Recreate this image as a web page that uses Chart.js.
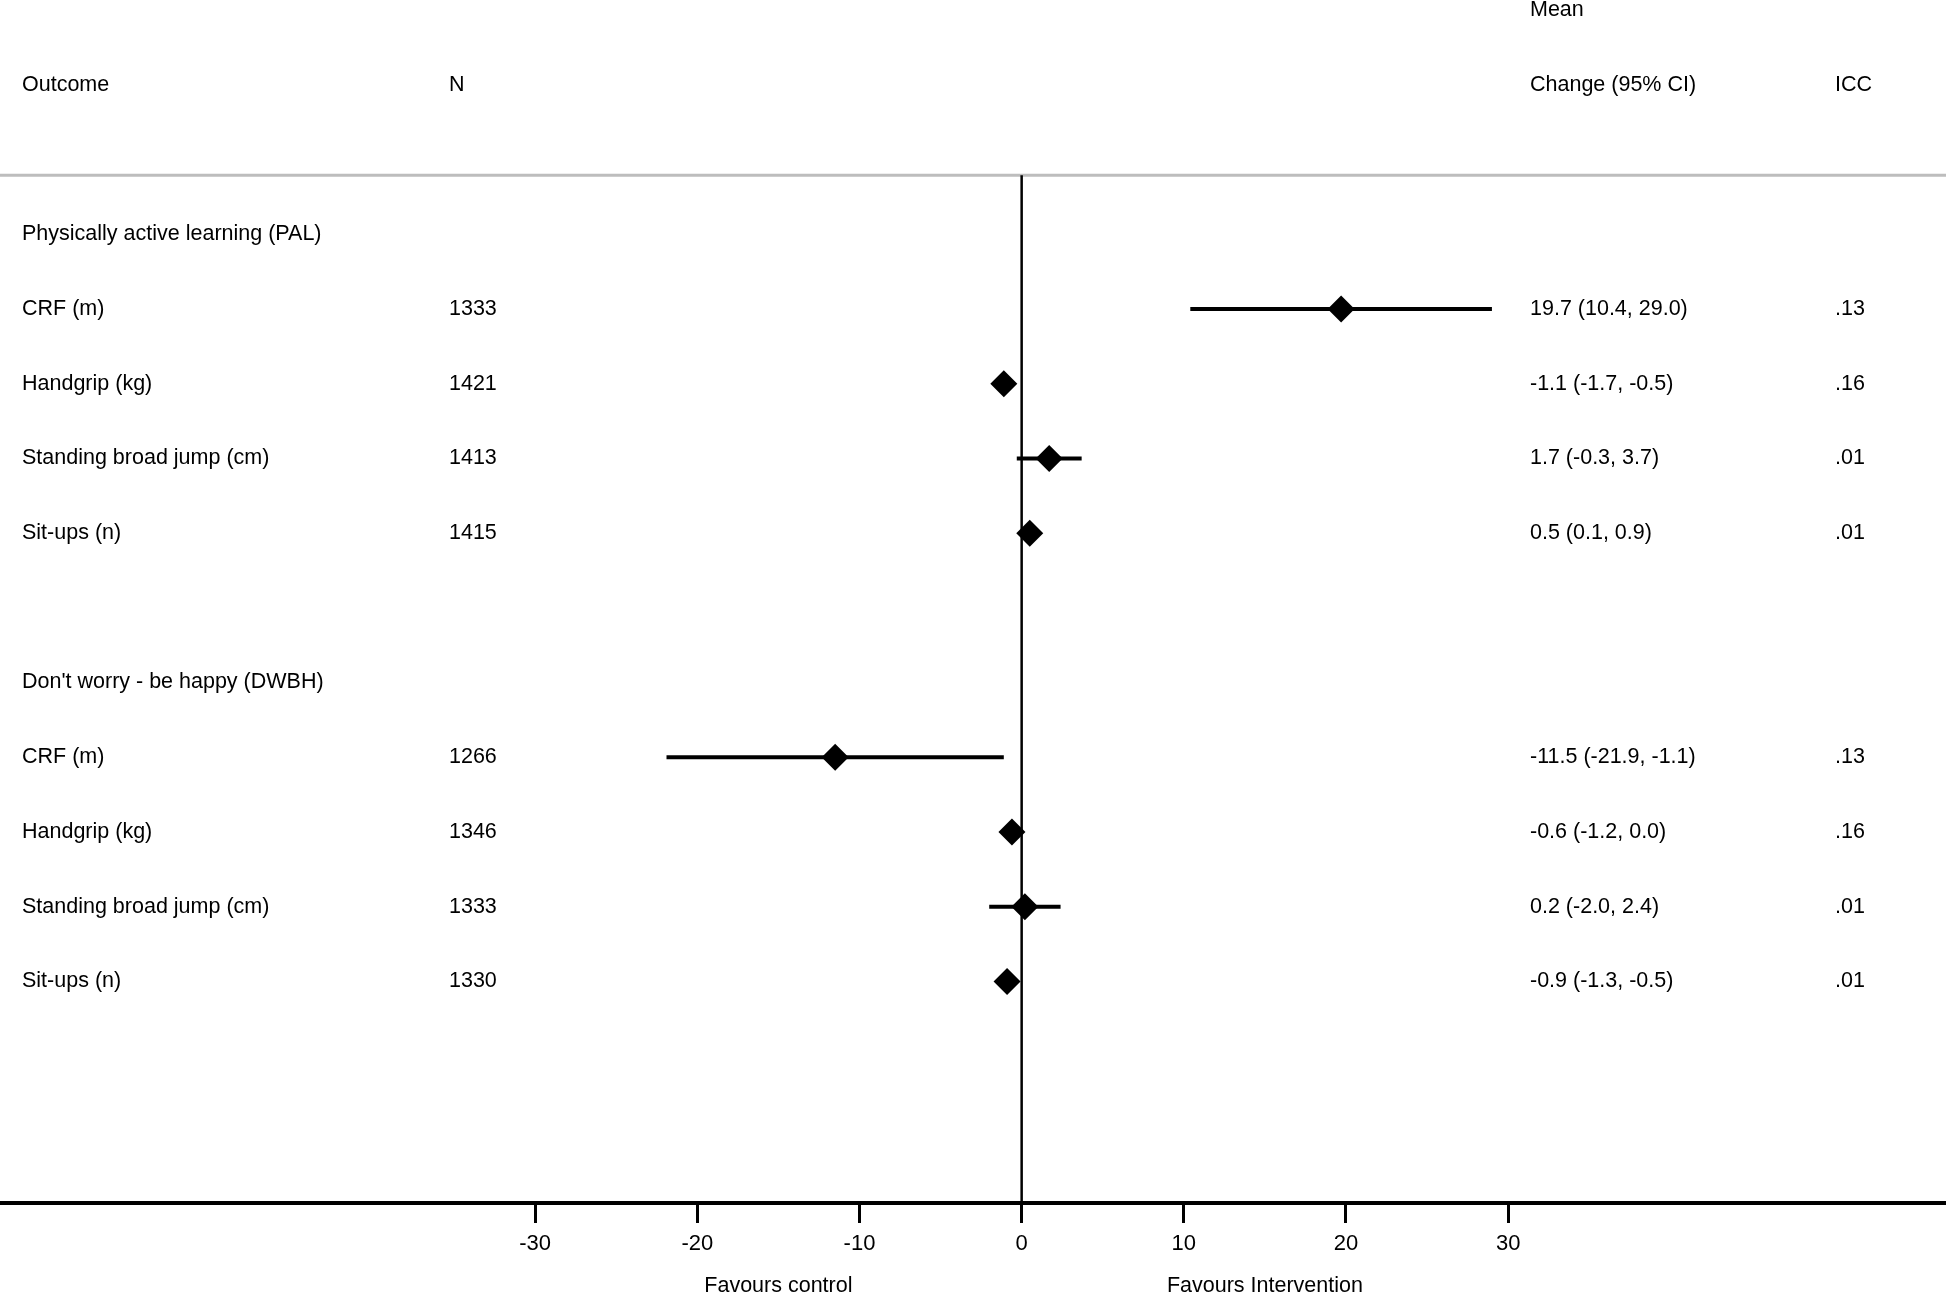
<!DOCTYPE html>
<html>
<head>
<meta charset="utf-8">
<title>Forest plot</title>
<script src="https://cdn.jsdelivr.net/npm/chart.js@4.4.1/dist/chart.umd.min.js"></script>
<style>
  html, body { margin: 0; padding: 0; background: #fff; }
  #wrap { width: 1946px; height: 1294px; }
</style>
</head>
<body>
<div id="wrap"><canvas id="forest"></canvas></div>
<script>
// rows from top to bottom (blank = spacer)
var outcomes = ["Physically active learning (PAL)", "CRF (m)", "Handgrip (kg)", "Standing broad jump (cm)", "Sit-ups (n)", "",
  "Don't worry - be happy (DWBH)", "CRF (m)", "Handgrip (kg)", "Standing broad jump (cm)", "Sit-ups (n)"];
var nValues = ["", "1333", "1421", "1413", "1415", "", "", "1266", "1346", "1333", "1330"];
var means = [null, 19.7, -1.1, 1.7, 0.5, null, null, -11.5, -0.6, 0.2, -0.9];
var lower = [null, 10.4, -1.7, -0.3, 0.1, null, null, -21.9, -1.2, -2.0, -1.3];
var upper = [null, 29.0, -0.5, 3.7, 0.9, null, null, -1.1, 0.0, 2.4, -0.5];
var icc = ["", ".13", ".16", ".01", ".01", "", "", ".13", ".16", ".01", ".01"];
var xTicks = [-30, -20, -10, 0, 10, 20, 30];
var favours = [{x: -15, text: "Favours control"}, {x: 15, text: "Favours Intervention"}];

var FAMILY = "'Liberation Sans', Arial, sans-serif";
var FONT = "21.5px " + FAMILY;

var points = [];
for (var i = 0; i < means.length; i++) {
  if (means[i] !== null) points.push({x: means[i], y: i});
}

function ciText(i) {
  return means[i].toFixed(1) + " (" + lower[i].toFixed(1) + ", " + upper[i].toFixed(1) + ")";
}

var forestPlugin = {
  id: 'forest',
  beforeDatasetsDraw: function(chart) {
    var ctx = chart.ctx, xs = chart.scales.x, ys = chart.scales.y, area = chart.chartArea;
    ctx.save();
    // grey header separator
    var sepY = ys.getPixelForValue(-0.79);
    ctx.strokeStyle = '#bdbdbd';
    ctx.lineWidth = 3;
    ctx.beginPath();
    ctx.moveTo(0, sepY);
    ctx.lineTo(chart.width, sepY);
    ctx.stroke();
    // line of no effect
    ctx.strokeStyle = '#000';
    ctx.lineWidth = 2.5;
    ctx.beginPath();
    ctx.moveTo(xs.getPixelForValue(0), sepY);
    ctx.lineTo(xs.getPixelForValue(0), area.bottom);
    ctx.stroke();
    // confidence intervals
    ctx.lineWidth = 4;
    for (var i = 0; i < means.length; i++) {
      if (means[i] === null) continue;
      var y = ys.getPixelForValue(i);
      ctx.beginPath();
      ctx.moveTo(xs.getPixelForValue(lower[i]), y);
      ctx.lineTo(xs.getPixelForValue(upper[i]), y);
      ctx.stroke();
    }
    ctx.restore();
  },
  afterDraw: function(chart) {
    var ctx = chart.ctx, xs = chart.scales.x, ys = chart.scales.y, area = chart.chartArea;
    ctx.save();
    ctx.font = FONT;
    ctx.fillStyle = '#000';
    ctx.textBaseline = 'middle';
    ctx.textAlign = 'left';
    // header
    var hy = ys.getPixelForValue(-2);
    ctx.fillText("Outcome", 22, hy);
    ctx.fillText("N", 449, hy);
    ctx.fillText("Mean", 1530, ys.getPixelForValue(-3));
    ctx.fillText("Change (95% CI)", 1530, hy);
    ctx.fillText("ICC", 1835, hy);
    // rows
    for (var i = 0; i < outcomes.length; i++) {
      var y = ys.getPixelForValue(i);
      ctx.fillText(outcomes[i], 22, y);
      ctx.fillText(nValues[i], 449, y);
      if (means[i] !== null) ctx.fillText(ciText(i), 1530, y);
      ctx.fillText(icc[i], 1835, y);
    }
    // favours labels
    ctx.textAlign = 'center';
    favours.forEach(function(f) {
      ctx.fillText(f.text, xs.getPixelForValue(f.x), area.bottom + 83);
    });
    ctx.restore();
  }
};

new Chart(document.getElementById('forest').getContext('2d'), {
  type: 'scatter',
  data: {
    datasets: [{
      label: 'Mean change',
      data: points,
      pointStyle: 'rectRot',
      pointRadius: 13.5,
      backgroundColor: '#000',
      borderColor: '#000',
      borderWidth: 0,
      clip: false
    }]
  },
  options: {
    responsive: true,
    maintainAspectRatio: false,
    devicePixelRatio: 1,
    animation: false,
    events: [],
    layout: { padding: 0, autoPadding: false },
    plugins: { legend: { display: false }, tooltip: { enabled: false } },
    scales: {
      x: {
        type: 'linear',
        position: 'bottom',
        min: -63,
        max: 57,
        afterBuildTicks: function(scale) {
          scale.ticks = xTicks.map(function(v) { return {value: v}; });
        },
        afterFit: function(scale) { scale.height = 91; },
        border: { display: true, color: '#000', width: 4 },
        grid: { drawOnChartArea: false, drawTicks: true, tickLength: 20, color: '#000', lineWidth: 3 },
        ticks: { color: '#000', padding: 8, font: { family: FAMILY, size: 22 } }
      },
      y: {
        type: 'linear',
        display: false,
        reverse: true,
        min: -3.135,
        max: 12.965
      }
    }
  },
  plugins: [forestPlugin]
});
</script>
</body>
</html>
